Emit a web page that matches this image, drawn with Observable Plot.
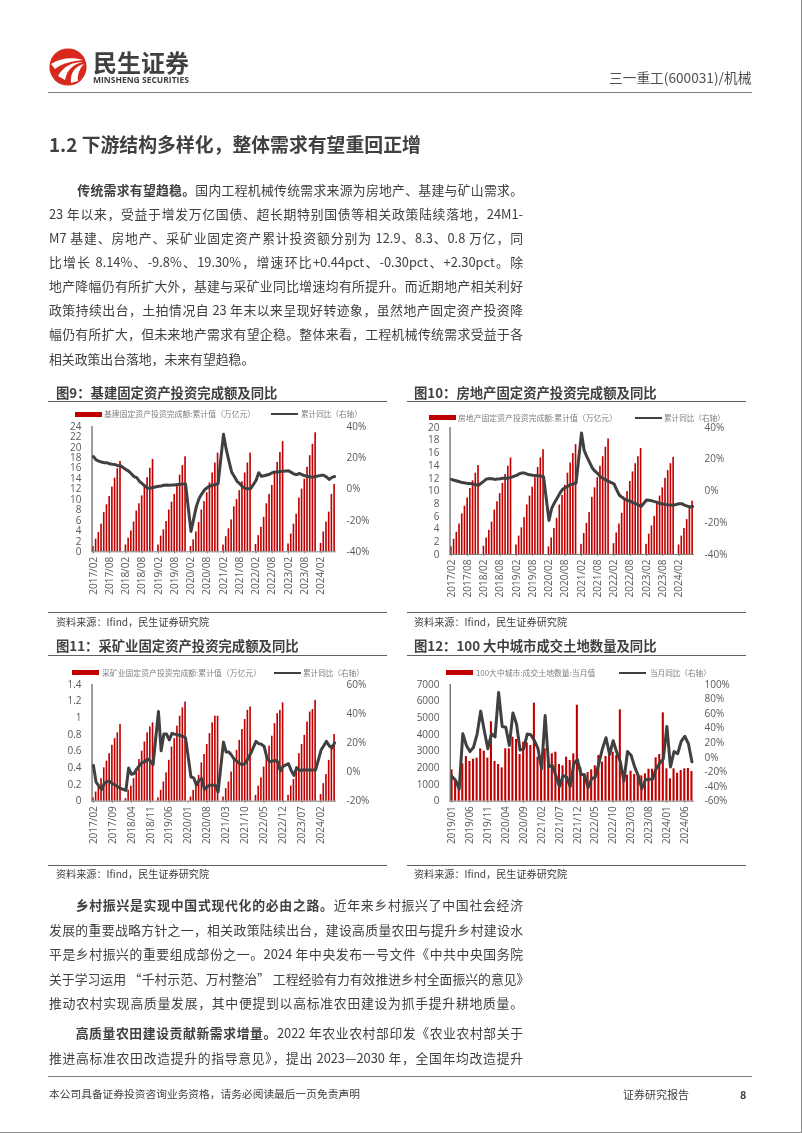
<!DOCTYPE html>
<html><head><meta charset="utf-8">
<script src="https://cdn.jsdelivr.net/npm/d3@7"></script>
<script src="https://cdn.jsdelivr.net/npm/@observablehq/plot@0.6"></script>
<style>
html,body{margin:0;padding:0;background:#fff}
#page{position:relative;width:802px;height:1133px;overflow:hidden;background:#fff;font-family:"Noto Sans CJK SC","Noto Sans",sans-serif;color:#404040;filter:blur(0.3px)}
.t{position:absolute;white-space:nowrap;transform:translateY(-50%);line-height:1}
.r{position:absolute}
.line{position:absolute;width:474px;left:49px;font-size:12.84px;line-height:24px;height:24px;text-align:justify;text-align-last:justify;white-space:normal;transform:translateY(-50%)}
.line.last{text-align-last:left}
svg{overflow:visible}
</style></head><body><div id="page"></div>
<script>
// ---------- categories ----------
const fig9Months = d3.utcMonths(new Date(Date.UTC(2017,1)), new Date(Date.UTC(2024,7))).map(d3.utcFormat("%Y/%m"));
const fig12Months = d3.utcMonths(new Date(Date.UTC(2019,0)), new Date(Date.UTC(2024,8))).map(d3.utcFormat("%Y/%m"));
const fig9Ticks = ["2017/02","2017/08","2018/02","2018/08","2019/02","2019/08","2020/02","2020/08","2021/02","2021/08","2022/02","2022/08","2023/02","2023/08","2024/02"];
const fig11Ticks = ["2017/02","2017/09","2018/04","2018/11","2019/06","2020/01","2020/08","2021/03","2021/10","2022/05","2022/12","2023/07","2024/02"];
const fig12Ticks = ["2019/01","2019/06","2019/11","2020/04","2020/09","2021/02","2021/07","2021/12","2022/05","2022/10","2023/03","2023/08","2024/01","2024/06"];

// ---------- series (Feb..Dec per year, Feb..Jul in 2024) ----------
const infraValue = [
 1.0,2.4,3.7,5.3,7.5,9.0,10.6,12.4,14.1,15.9,17.3,
 1.3,2.6,4.0,5.7,7.8,9.2,10.7,12.5,14.2,16.0,17.7,
 1.3,3.0,4.2,5.8,8.0,9.5,11.0,12.9,14.7,16.5,18.2,
 1.0,2.3,3.8,5.6,8.0,9.6,11.3,13.2,15.1,17.0,18.9,
 1.3,2.9,4.4,6.1,8.6,10.0,11.7,13.4,15.1,17.0,18.9,
 1.4,3.1,4.7,6.6,9.2,11.0,12.7,15.0,17.1,19.0,21.1,
 1.5,3.4,5.3,7.2,10.3,12.0,13.9,16.2,18.4,20.6,22.8,
 1.6,3.8,5.7,7.6,11.0,12.9];
const infraYoY = [
 20.8,18.7,17.9,17.3,16.9,16.8,16.2,15.9,15.7,15.0,14.9,
 12.5,11.5,9.8,8,7.3,5,3.5,2,0.8,0.6,1.0,
 1.8,2,2.5,2.6,2.5,2.6,2.6,3,3,3.3,3.3,
 -27,-19,-11,-6,-3,-0.5,1,2,2.5,3,3.4,
 35,25.5,18,11,8,5,3.5,1.5,0.5,0.3,0.3,
 5.5,10.5,8.2,8.5,9,9.5,10.5,11,11,11.3,11.5,
 11.7,10.7,9.7,9.3,10,9.3,8.5,8.2,7.8,7.8,8.1,
 8.8,8.8,7.8,6.2,7.5,8.1];
const estateValue = [
 1.2,2.4,3.5,4.8,6.4,7.6,8.9,10.4,11.6,12.8,14.0,
 1.3,2.6,3.8,5.1,7.0,8.3,9.6,11.2,12.6,13.9,15.2,
 1.5,2.9,4.2,5.8,7.8,9.2,10.6,12.1,13.7,15.2,16.5,
 1.2,2.6,4.1,5.7,7.8,9.3,10.9,12.8,14.4,15.9,17.3,
 1.6,3.3,4.9,6.6,9.0,10.5,12.1,13.9,15.4,16.9,18.2,
 1.7,3.4,4.8,6.5,8.6,9.9,11.5,13.0,14.3,15.4,16.7,
 1.6,3.2,4.5,6.0,8.2,9.2,10.5,12.0,13.2,14.3,15.3,
 1.5,2.9,4.1,5.5,7.4,8.4];
const estateYoY = [
 7.3,6.8,6.3,5.8,5.3,5.1,4.8,4.7,4.4,4.0,3.6,
 6.2,7.6,7.8,7.7,7.3,7.5,7.7,8,8,8.1,8.6,
 9.8,10.8,11.3,11.3,10.6,10.2,9.9,9.8,9.6,9.4,9.0,
 -18.5,-11,-7.5,-4.5,-1.5,1,2,3,4,4.5,5,
 36.5,25.5,21.5,18,14.5,12.5,11,9,7.8,7,6,
 4.5,0.7,-2.7,-4,-5.2,-6,-6.4,-7.4,-8,-8.8,-9.8,
 -5.7,-5.8,-6.2,-6.7,-7.2,-7.9,-8.2,-8.5,-8.7,-8.8,-8.9,
 -8,-8,-8.9,-9.5,-10.1,-9.8];
const miningValue = [
 0.04,0.11,0.19,0.27,0.40,0.48,0.57,0.67,0.75,0.82,0.92,
 0.03,0.13,0.18,0.27,0.39,0.50,0.60,0.71,0.82,0.89,0.94,
 0.04,0.13,0.23,0.34,0.49,0.65,0.75,0.90,1.02,1.12,1.19,
 0.05,0.13,0.21,0.31,0.46,0.56,0.68,0.81,0.94,1.02,1.02,
 0.05,0.15,0.23,0.35,0.50,0.61,0.73,0.86,0.98,1.09,1.13,
 0.07,0.18,0.28,0.41,0.56,0.66,0.78,0.93,1.05,1.09,1.18,
 0.07,0.18,0.26,0.40,0.57,0.68,0.79,0.95,1.07,1.10,1.21,
 0.08,0.21,0.32,0.49,0.67,0.80];
const miningYoY = [
 4.5,-7,-9.5,-12,-8,-6.5,-6.5,-8,-9,-10,-11.3,
 -12.6,2.7,-1.5,-1,2,4.5,6.5,7,9,7.5,5,
 41.5,14.5,26,26,22,26.5,26,25.5,25,24.5,23.5,
 -3.4,-4,-9,-5.7,-4.5,-12,-10,-9,-9,-9,-13.7,
 20.5,13.7,13.7,11.5,8.7,7.3,5.7,5,6,9,12.5,
 21,19.5,19,17.6,10,7,7.5,8,7,0.7,3.9,
 5.7,1,-2.3,3,1,1.4,1.4,1.4,1.4,1.4,1.4,
 15,18,21,18,16.5,20];
const landCount = [
 1880,1200,750,2240,2680,2380,2520,2580,3140,3000,2580,4760,
 2380,2200,2000,3140,3140,3840,3700,2800,3540,3500,3340,5880,
 2640,2340,3140,2240,2840,2940,2200,2120,2640,2440,2840,5760,
 2000,1640,1720,1880,2120,2740,2340,2680,2800,2940,2740,5480,
 1550,1560,1800,1600,1550,1520,1640,1920,1920,2600,2800,5300,
 1940,1340,1940,1680,1840,1940,1960,1780];
const landYoY = [
 -26,-31.5,-43,32.5,16.5,8,14,32,63.5,37,12,32.5,
 28,89,42.5,41.5,16.5,61,46,10,12,32,31,23,
 12,-15.5,57.5,-12.5,-11,-25,-40,-25,-27,-40,-8.7,-3,
 -23,-24,-41.6,-29,-27,-8,12,27,4,23,7,-6,
 -32.5,8,3,-13,-25,-43,-30.6,-30,-30,-15.5,-8,-2,
 42.5,-13,8,5,22,29,19,-6];

// ---------- text ----------
const introLines = [
 "<b>传统需求有望趋稳。</b>国内工程机械传统需求来源为房地产、基建与矿山需求。",
 "23 年以来，受益于增发万亿国债、超长期特别国债等相关政策陆续落地，24M1-",
 "M7 基建、房地产、采矿业固定资产累计投资额分别为 12.9、8.3、0.8 万亿，同",
 "比增长 8.14%、-9.8%、19.30%，增速环比+0.44pct、-0.30pct、+2.30pct。除",
 "地产降幅仍有所扩大外，基建与采矿业同比增速均有所提升。而近期地产相关利好",
 "政策持续出台，土拍情况自 23 年末以来呈现好转迹象，虽然地产固定资产投资降",
 "幅仍有所扩大，但未来地产需求有望企稳。整体来看，工程机械传统需求受益于各",
 "相关政策出台落地，未来有望趋稳。"];
const outroLines = [
 "<b>乡村振兴是实现中国式现代化的必由之路。</b>近年来乡村振兴了中国社会经济",
 "发展的重要战略方针之一，相关政策陆续出台，建设高质量农田与提升乡村建设水",
 "平是乡村振兴的重要组成部份之一。2024 年中央发布一号文件《中共中央国务院",
 "关于学习运用 “千村示范、万村整治” 工程经验有力有效推进乡村全面振兴的意见》",
 "推动农村实现高质量发展，其中便提到以高标准农田建设为抓手提升耕地质量。",
 "<b>高质量农田建设贡献新需求增量。</b>2022 年农业农村部印发《农业农村部关于",
 "推进高标准农田改造提升的指导意见》，提出 2023—2030 年，全国年均改造提升"];

// ---------- page helpers ----------
const page = document.getElementById("page");
function text(s,x,y,css=""){const d=document.createElement("div");d.className="t";d.style.cssText=`left:${x}px;top:${y}px;`+css;d.innerHTML=s;page.appendChild(d);return d}
function rect(x,y,w,h,c){const d=document.createElement("div");d.className="r";d.style.cssText=`left:${x}px;top:${y}px;width:${w}px;height:${h}px;background:${c}`;page.appendChild(d)}
function para(lines,ys,indents){lines.forEach((s,i)=>{const d=document.createElement("div");d.className="line"+(s.length<30?" last":"");
 const ind=indents[i]||0;d.style.cssText=`top:${ys[i]}px;left:${49+ind}px;width:${474-ind}px`;d.innerHTML=s;page.appendChild(d)})}

// ---------- header ----------
const logo=document.createElement("div");logo.style.cssText="position:absolute;left:49px;top:48px;width:38px;height:38px";
logo.innerHTML=`<svg width="38" height="38" viewBox="-19 -19 38 38"><circle r="18.6" fill="#D9291C"/><g fill="#fff"><path d="M-17,-3C-8,-9 5,-10 15,-7C5,-6 -6,-4 -13,2Z"/><path d="M-10,9C-4,-2 6,-5 15,-5C6,-3 -1,2 -3,13Z"/><path d="M3,16C2,6 7,-1 16,-3C11,2 9,9 10,14Z"/></g></svg>`;
page.appendChild(logo);
text("民生证券",93,61.5,"font-size:24px;font-weight:700;color:#404040");
text("MINSHENG SECURITIES",93,79.3,"font:700 8.5px 'Open Sans',sans-serif;color:#404040");
text("三一重工(600031)/机械",609,77.5,"font-size:13.7px;color:#505050");
rect(48,92,704,1.4,"#808080");
rect(801,0,1,1133,"#8c8c8c");
rect(0,1132,802,1,"#8c8c8c");
text("1.2 下游结构多样化，整体需求有望重回正增",49,144,"font-size:18.85px;font-weight:700");
para(introLines,[190,213.8,237.8,261.8,286,310,334.3,358.6],[28.3]);
para(outroLines,[905,930,954.3,978.6,1002.6,1033.3,1058.3],[26.7,0,0,0,0,26.7]);
rect(48,1076,704,1.2,"#808080");
text("本公司具备证券投资咨询业务资格，请务必阅读最后一页免责声明",49,1093.5,"font-size:10.72px");
text("证券研究报告",623,1093.5,"font-size:11px");
text("8",740,1093.5,"font-size:10.8px;font-weight:700");

// ---------- dual-axis chart ----------
function chart(o){
 const {months,values,yoy,ticks,yDomain,yTicks,yFormat,pDomain,pTicks,skipJan,axisX,axisW,top,bottom}=o;
 const slots = skipJan ? months.filter(m=>!m.endsWith("/01")) : months;
 const bars = slots.map((m,i)=>({m,v:values[i],p:yoy[i]}));
 const toLeft = p => yDomain[0]+(p-pDomain[0])/(pDomain[1]-pDomain[0])*(yDomain[1]-yDomain[0]);
 const fromLeft = v => pDomain[0]+(v-yDomain[0])/(yDomain[1]-yDomain[0])*(pDomain[1]-pDomain[0]);
 const mL=40,mR=45,mT=8,mB=48;
 const plot = Plot.plot({
  width:axisW+mL+mR,height:bottom-top+mT+mB,marginLeft:mL,marginRight:mR,marginTop:mT,marginBottom:mB,
  style:{fontFamily:"'Open Sans',sans-serif",fontSize:"10px",color:"#595959",background:"transparent"},
  x:{type:"band",domain:months,padding:o.pad??0.4,round:false,label:null},
  y:{domain:yDomain,label:null},
  marks:[
   Plot.barY(bars,{x:"m",y:"v",fill:"#C00000"}),
   Plot.ruleY([yDomain[0]],{stroke:"#7f7f7f",strokeWidth:1}),
   Plot.axisX({ticks,tickRotate:-90,tickSize:2,tickPadding:3,stroke:"#7f7f7f",label:null,fontSize:10}),
   Plot.axisY({ticks:yTicks,tickSize:0,tickPadding:10,tickFormat:yFormat,label:null,fontSize:10}),
   Plot.axisY({ticks:pTicks.map(toLeft),anchor:"right",tickSize:0,tickPadding:10,tickFormat:v=>Math.round(fromLeft(v))+"%",label:null,fontSize:10}),
   Plot.ruleX([months[0]],{dx:-(axisW/months.length)/2,stroke:"#6a6a6a",strokeWidth:1.3}),
   Plot.line(bars,{x:"m",y:d=>toLeft(d.p),stroke:"#404040",strokeWidth:3,strokeLinejoin:"round",strokeLinecap:"round"})
  ]
 });
 plot.style.position="absolute";plot.style.left=(axisX-mL)+"px";plot.style.top=(top-mT)+"px";
 page.appendChild(plot);
}
function frame(f){
 text(f.title,f.titleX,f.titleY,"font-size:13.35px;font-weight:700;color:#404040");
 rect(f.ruleX,f.ruleY,339,1.1,"#606060");
 rect(f.ruleX,f.srcRuleY,339,1.1,"#606060");
 text("资料来源：Ifind，民生证券研究院",f.titleX,f.srcY,"font-size:10.15px;color:#404040");
 rect(f.swX,f.legY-2.5,27,5,"#C00000");
 text(f.leg1,f.txX,f.legY,"font-size:7.85px;color:#808080");
 rect(f.sw2X,f.legY-1.2,27,2.4,"#404040");
 text(f.leg2,f.tx2X,f.legY,"font-size:7.6px;color:#808080");
}
frame({title:"图9：基建固定资产投资完成额及同比",titleX:56,titleY:392.5,ruleX:48,ruleY:401,srcRuleY:612,srcY:621.5,swX:75,txX:104,sw2X:271,tx2X:301,legY:414.3,leg1:"基建固定资产投资完成额:累计值（万亿元）",leg2:"累计同比（右轴）"});
frame({title:"图10：房地产固定资产投资完成额及同比",titleX:414,titleY:392.5,ruleX:407,ruleY:401,srcRuleY:612,srcY:621.5,swX:429,txX:458,sw2X:635,tx2X:664,legY:417.7,leg1:"房地产固定资产投资完成额:累计值（万亿元）",leg2:"累计同比（右轴）"});
frame({title:"图11：采矿业固定资产投资完成额及同比",titleX:56,titleY:646,ruleX:48,ruleY:655,srcRuleY:865,srcY:873.5,swX:72,txX:102,sw2X:274,tx2X:303,legY:672.7,leg1:"采矿业固定资产投资完成额:累计值（万亿元）",leg2:"累计同比（右轴）"});
frame({title:"图12：100 大中城市成交土地数量及同比",titleX:414,titleY:646,ruleX:407,ruleY:655,srcRuleY:865,srcY:873.5,swX:446,txX:476,sw2X:619,tx2X:650,legY:672.7,leg1:"100大中城市:成交土地数量:当月值",leg2:"当月同比（右轴）"});

chart({months:fig9Months,values:infraValue,yoy:infraYoY,skipJan:true,ticks:fig9Ticks,
 yDomain:[0,24],yTicks:d3.range(0,25,2),yFormat:d3.format("d"),pDomain:[-40,40],pTicks:[-40,-20,0,20,40],
 axisX:90.7,axisW:245,top:425.7,bottom:551});
chart({months:fig9Months,values:estateValue,yoy:estateYoY,skipJan:true,ticks:fig9Ticks,
 yDomain:[0,20],yTicks:d3.range(0,21,2),yFormat:d3.format("d"),pDomain:[-40,40],pTicks:[-40,-20,0,20,40],
 axisX:448.7,axisW:245,top:426.7,bottom:553.7});
chart({months:fig9Months,values:miningValue,yoy:miningYoY,skipJan:true,ticks:fig11Ticks,
 yDomain:[0,1.4],yTicks:[0,0.2,0.4,0.6,0.8,1,1.2,1.4],yFormat:d=>String(+d.toFixed(1)),pDomain:[-20,60],pTicks:[-20,0,20,40,60],
 axisX:90.7,axisW:245,top:684,bottom:800.7});
chart({months:fig12Months,values:landCount,yoy:landYoY,skipJan:false,ticks:fig12Ticks,pad:0.42,
 yDomain:[0,7000],yTicks:d3.range(0,7001,1000),yFormat:d3.format("d"),pDomain:[-60,100],pTicks:[-60,-40,-20,0,20,40,60,80,100],
 axisX:448.7,axisW:245,top:684,bottom:800.7});
</script></body></html>
